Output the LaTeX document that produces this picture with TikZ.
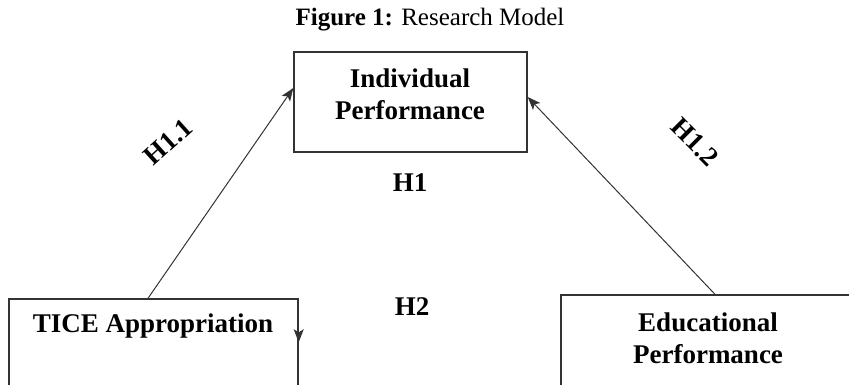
\documentclass[tikz,border=0pt]{standalone}
\usepackage{fontspec}
\setmainfont{Liberation Serif}
\usetikzlibrary{arrows.meta}
\begin{document}
\begin{tikzpicture}[x=1pt,y=-1pt,
  box/.style={draw=black!80,line width=1.4pt,inner sep=0pt,rectangle},
  lbl/.style={font=\fontsize{27}{32}\selectfont\bfseries,align=center,inner sep=0pt},
  hyp/.style={font=\fontsize{27}{32}\selectfont\bfseries,inner sep=0pt},
  arr/.style={draw=black!80,line width=1pt,-{Stealth[length=13pt,width=10pt,inset=3pt]}}]
\useasboundingbox (0,0) rectangle (849,384);
\clip (0,0) rectangle (849,384);
% title
\node[font=\fontsize{25}{30}\selectfont,inner sep=0pt] (title) at (430,20) {\textbf{Figure 1:} Research Model};
% boxes
\node[box,minimum width=233pt,minimum height=100pt] (ip) at (410.5,102) {};
\node[box,minimum width=289pt,minimum height=140pt] (tice) at (153.5,369) {};
\node[box,minimum width=294pt,minimum height=140pt] (edu) at (708,365) {};
% texts
\node[lbl] (iptxt) at (410,94) {Individual\\Performance};
\node[lbl] (ticetxt) at (153,326) {TICE Appropriation};
\node[lbl] (edutxt) at (708,338) {Educational\\Performance};
% hypotheses
\node[hyp] (h1) at (410,183) {H1};
\node[hyp] (h2) at (412,307) {H2};
\node[hyp,rotate=42] (h11) at (168,142) {H1.1};
\node[hyp,rotate=-45] (h12) at (695,142) {H1.2};
% connectors
\coordinate (a1s) at ([xshift=-5.5pt]tice.north);
\coordinate (a1e) at ([yshift=14pt]ip.west);
\coordinate (a2s) at ([xshift=7pt]edu.north);
\coordinate (a2e) at ([yshift=5pt]ip.east);
\draw[arr] (a1s) -- (a1e);
\draw[arr] (a2s) -- (a2e);
\coordinate (d1) at ([yshift=-22pt]tice.north east);
\coordinate (d2) at ([yshift=-44pt]tice.north east);
\draw[arr] (d1) -- (d2);
\end{tikzpicture}
\end{document}
